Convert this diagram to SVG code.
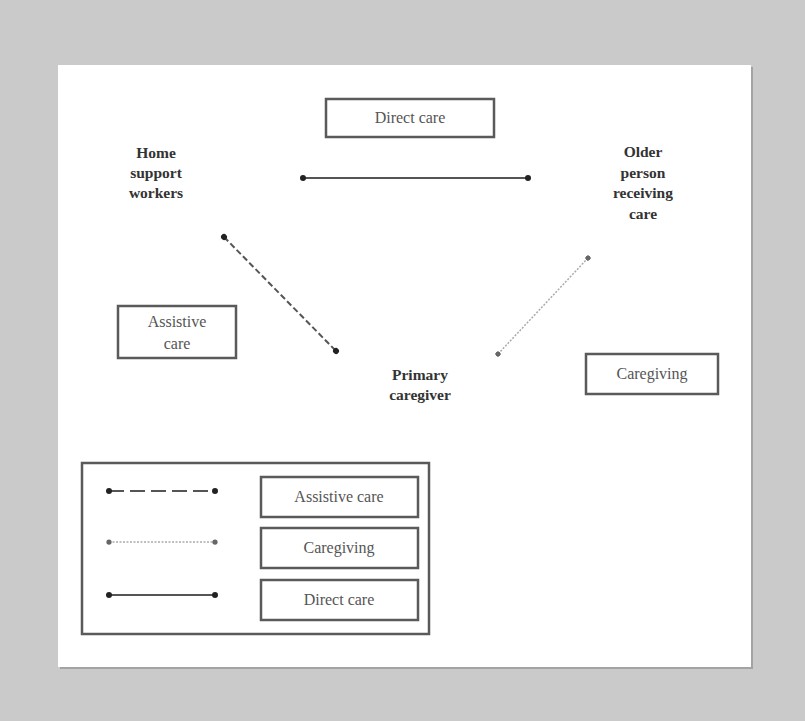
<svg xmlns="http://www.w3.org/2000/svg" width="805" height="721" viewBox="0 0 805 721">
<defs>
<style>
.lbl{font-family:"Liberation Serif","Times New Roman",serif;font-size:16px;fill:#555;text-anchor:middle}
.node{font-family:"Liberation Serif","Times New Roman",serif;font-size:15.5px;font-weight:bold;fill:#333;text-anchor:middle}
.box{fill:#fff;stroke:#5a5a5a;stroke-width:2.5}
.solid{stroke:#555;stroke-width:2;fill:none}
.dash{stroke:#555;stroke-width:2;stroke-dasharray:6,3;fill:none}
.dashlong{stroke:#555;stroke-width:2;stroke-dasharray:15,6;fill:none}
.dot{stroke:#aaa;stroke-width:1.5;stroke-dasharray:2,1.5;fill:none}
</style>
<marker id="dk" viewBox="0 0 10 10" refX="5" refY="5" markerWidth="3" markerHeight="3" markerUnits="strokeWidth" orient="auto">
<circle cx="5" cy="5" r="5" fill="#222"/>
</marker>
<marker id="lt" viewBox="0 0 10 10" refX="5" refY="5" markerWidth="3.5" markerHeight="3.5" markerUnits="strokeWidth" orient="auto">
<circle cx="5" cy="5" r="5" fill="#666"/>
</marker>
</defs>
<rect x="0" y="0" width="805" height="721" fill="#c9cac9"/>
<rect x="60" y="67" width="693" height="602" fill="#888" opacity="0.6"/>
<rect x="58" y="65" width="693" height="602" fill="#fff"/>

<g id="connectors">
<line class="solid" x1="303" y1="178" x2="528" y2="178" marker-start="url(#dk)" marker-end="url(#dk)"/>
<line class="dash" x1="224" y1="237" x2="336" y2="351" marker-start="url(#dk)" marker-end="url(#dk)"/>
<line class="dot" x1="588" y1="258" x2="498" y2="354" marker-start="url(#lt)" marker-end="url(#lt)"/>
</g>

<g id="home-support-workers">
<text class="node" x="156" y="158">Home</text>
<text class="node" x="156" y="178">support</text>
<text class="node" x="156" y="198">workers</text>
</g>
<g id="older-person">
<text class="node" x="643" y="157">Older</text>
<text class="node" x="643" y="178">person</text>
<text class="node" x="643" y="198">receiving</text>
<text class="node" x="643" y="219">care</text>
</g>
<g id="primary-caregiver">
<text class="node" x="420" y="380">Primary</text>
<text class="node" x="420" y="400">caregiver</text>
</g>
<g id="label-direct-care">
<rect class="box" x="326" y="99" width="168" height="38"/>
<text class="lbl" x="410" y="123">Direct care</text>
</g>
<g id="label-assistive-care">
<rect class="box" x="118" y="306" width="118" height="52"/>
<text class="lbl" x="177" y="327">Assistive</text>
<text class="lbl" x="177" y="349">care</text>
</g>
<g id="label-caregiving">
<rect class="box" x="586" y="354" width="132" height="40"/>
<text class="lbl" x="652" y="379">Caregiving</text>
</g>
<g id="legend">
<rect class="box" x="82" y="463" width="347" height="171"/>
<line class="dashlong" x1="109" y1="491" x2="215" y2="491" marker-start="url(#dk)" marker-end="url(#dk)"/>
<line class="dot" x1="109" y1="542" x2="215" y2="542" marker-start="url(#lt)" marker-end="url(#lt)"/>
<line class="solid" x1="109" y1="595" x2="215" y2="595" marker-start="url(#dk)" marker-end="url(#dk)"/>
<rect class="box" x="261" y="477" width="157" height="40"/>
<text class="lbl" x="339" y="502">Assistive care</text>
<rect class="box" x="261" y="528" width="157" height="40"/>
<text class="lbl" x="339" y="553">Caregiving</text>
<rect class="box" x="261" y="580" width="157" height="40"/>
<text class="lbl" x="339" y="605">Direct care</text>
</g>
</svg>
